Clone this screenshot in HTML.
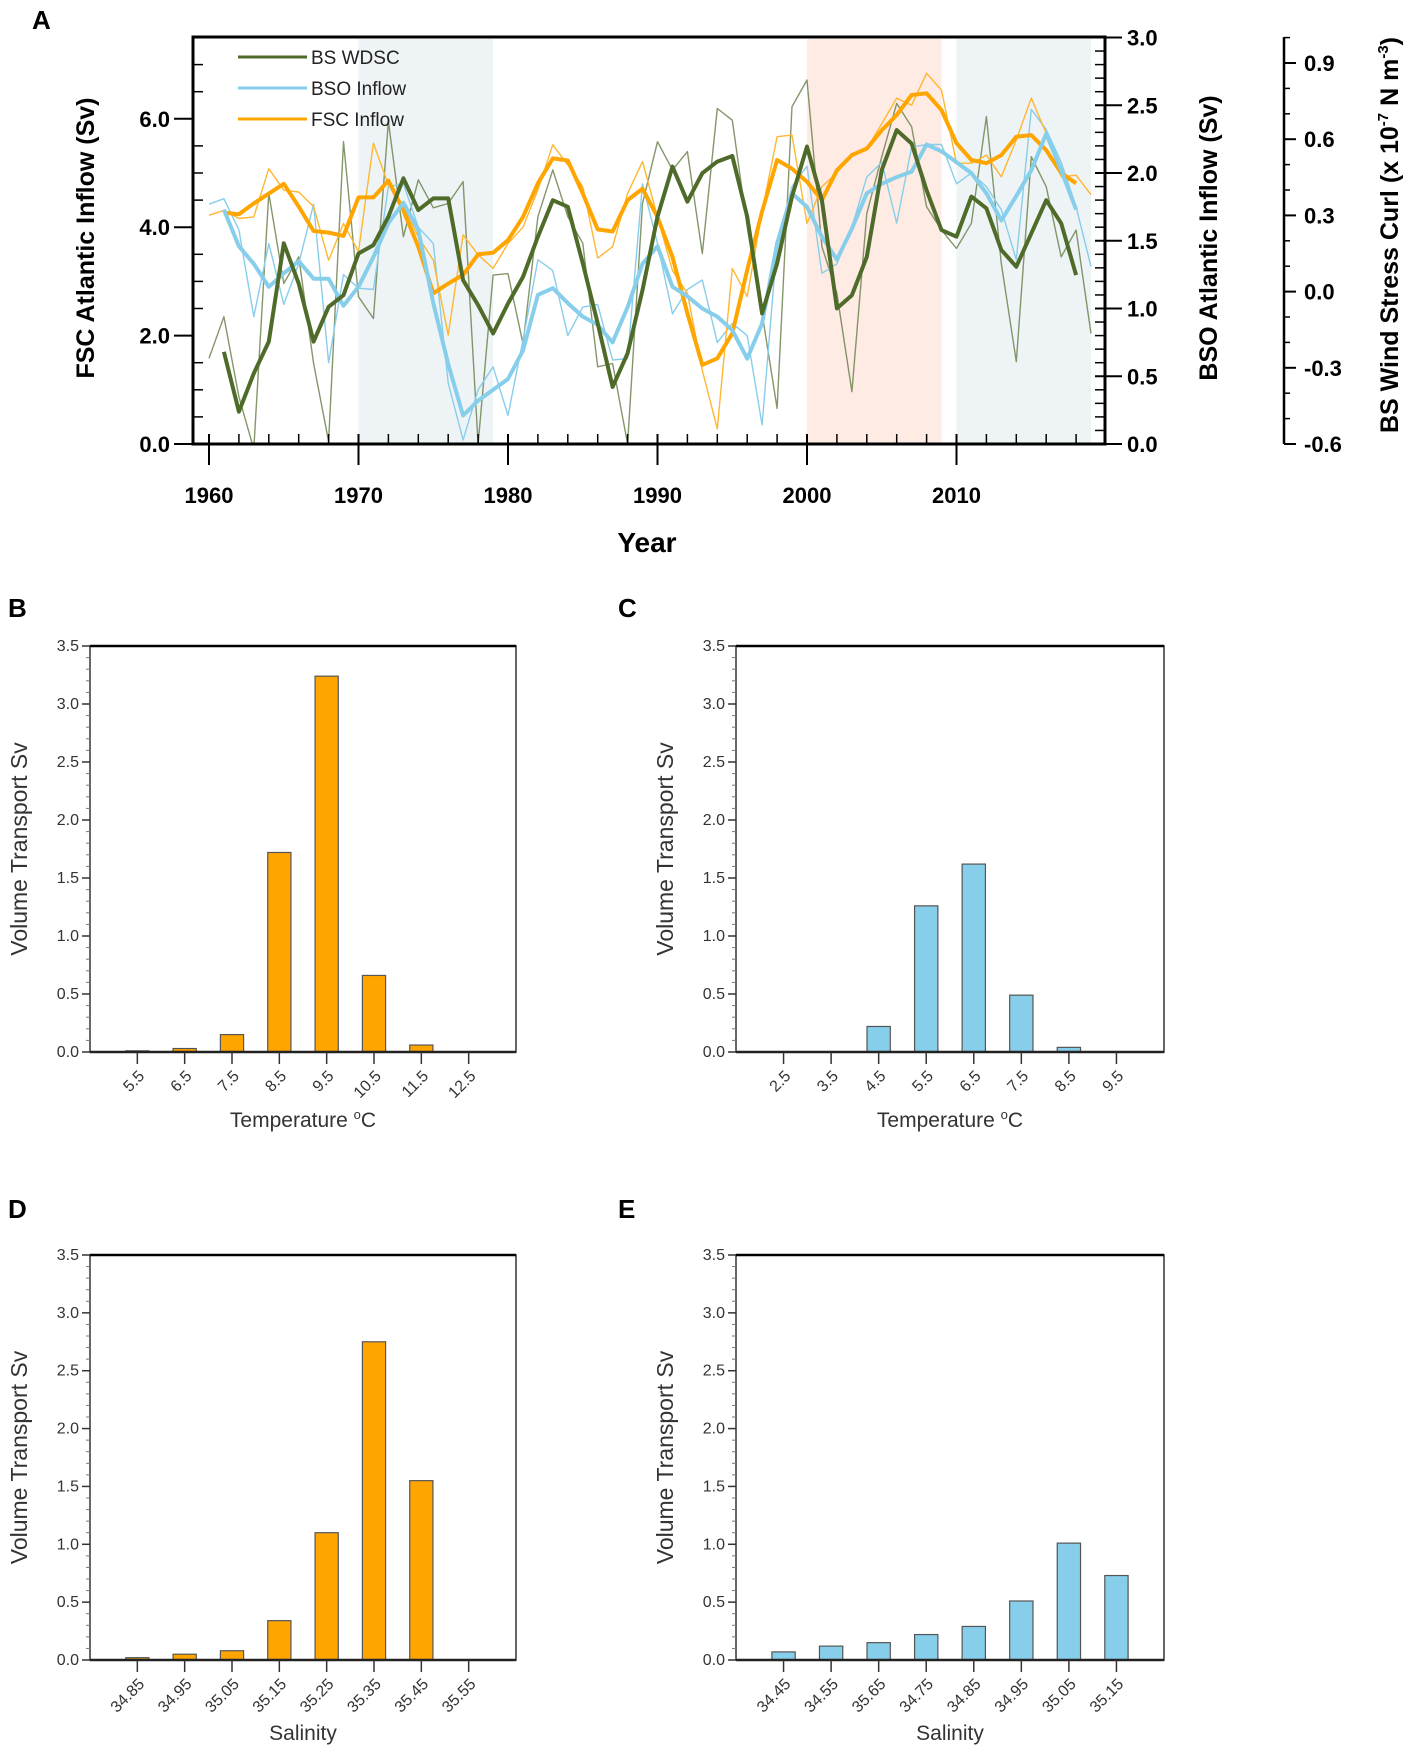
<!DOCTYPE html>
<html><head><meta charset="utf-8"><style>
html,body{margin:0;padding:0;background:#fff;}
svg{display:block;font-family:"Liberation Sans",Arial,sans-serif;}
</style></head><body>
<svg id="fig" width="1417" height="1757" viewBox="0 0 1417 1757" xmlns="http://www.w3.org/2000/svg">
<defs><clipPath id="clipA"><rect x="193" y="37" width="912" height="407"/></clipPath></defs>
<g id="panelA"></g>
<g id="panelB"></g>
<g id="panelC"></g>
<g id="panelD"></g>
<g id="panelE"></g>
</svg>
<script>
// ---------- Panel A data ----------
const yearsAnnual = [];
for (let y = 1960; y <= 2019; y++) yearsAnnual.push(y);
const yearsSmooth = [];
for (let y = 1961; y <= 2018; y++) yearsSmooth.push(y);
const fscAnnual = [4.22,4.31,4.16,4.19,5.08,4.68,4.65,4.38,3.39,4.07,3.55,5.55,4.78,4.38,3.82,3.39,2.01,3.86,3.49,3.24,3.7,4.0,4.69,5.52,5.15,4.75,3.43,3.64,4.62,5.21,4.19,3.2,2.78,1.36,0.28,3.24,2.72,4.29,5.67,5.70,4.07,4.75,5.0,5.36,5.45,5.91,6.38,6.25,6.84,6.53,5.18,5.18,5.33,4.93,5.61,6.38,5.73,4.93,4.96,4.6];
const fscSmooth = [4.27,4.24,4.44,4.62,4.80,4.38,3.93,3.90,3.84,4.55,4.55,4.86,4.31,3.64,2.78,2.96,3.12,3.5,3.53,3.76,4.19,4.81,5.27,5.23,4.62,3.96,3.92,4.5,4.71,4.19,3.45,2.41,1.46,1.58,2.04,3.21,4.29,5.24,5.08,4.84,4.5,5.05,5.33,5.45,5.79,6.07,6.44,6.47,6.16,5.55,5.24,5.18,5.33,5.67,5.70,5.42,5.0,4.81];
const bsoAnnual = [1.77,1.81,1.58,0.94,1.48,1.03,1.33,1.77,0.6,1.25,1.15,1.14,1.9,1.92,1.6,1.48,0.45,0.03,0.4,0.57,0.21,0.77,1.36,1.28,0.8,1.01,1.03,0.62,0.63,1.92,1.48,0.96,1.14,1.21,0.75,0.89,0.8,0.14,1.48,1.9,2.05,1.26,1.33,1.6,1.97,2.08,1.63,2.19,2.21,2.21,1.92,2.0,1.90,1.73,1.36,2.47,2.32,2.08,1.75,1.31];
const bsoSmooth = [1.73,1.46,1.33,1.16,1.26,1.35,1.22,1.22,1.02,1.16,1.38,1.63,1.78,1.58,1.04,0.59,0.21,0.32,0.40,0.48,0.69,1.10,1.15,1.04,0.94,0.88,0.75,1.01,1.33,1.46,1.16,1.09,1.0,0.94,0.84,0.63,0.89,1.48,1.85,1.75,1.53,1.36,1.59,1.85,1.92,1.97,2.01,2.21,2.16,2.08,1.999,1.85,1.65,1.83,2.02,2.29,2.02,1.73];
const windAnnual = [-0.263,-0.099,-0.414,-0.62,0.387,0.032,0.137,-0.283,-0.59,0.59,-0.02,-0.106,0.67,0.216,0.44,0.33,0.347,0.433,-0.6,0.065,0.071,-0.205,0.295,0.479,0.295,0.19,-0.296,-0.283,-0.6,0.347,0.59,0.479,0.551,0.15,0.721,0.675,0.255,-0.086,-0.46,0.728,0.833,0.177,-0.007,-0.394,0.308,0.531,0.741,0.649,0.334,0.242,0.17,0.269,0.689,0.111,-0.276,0.531,0.413,0.137,0.242,-0.165];
const windSmooth = [-0.237,-0.473,-0.322,-0.197,0.19,0.032,-0.197,-0.06,-0.014,0.15,0.183,0.295,0.446,0.321,0.367,0.367,0.045,-0.053,-0.165,-0.047,0.058,0.216,0.36,0.334,0.111,-0.125,-0.375,-0.243,0.006,0.295,0.492,0.354,0.466,0.512,0.534,0.295,-0.086,0.111,0.374,0.571,0.36,-0.066,-0.014,0.137,0.479,0.636,0.583,0.399,0.242,0.216,0.374,0.328,0.164,0.098,0.229,0.36,0.269,0.065];
const shadeStarts = [1970, 2000, 2010];
const shadeEnds = [1979, 2009, 2019];
const shadeKinds = ["cold", "warm", "cold"];
const yearTicks = [1960,1970,1980,1990,2000,2010];
const leftTicks = [0,2,4,6];
const rightTicks = [0,0.5,1.0,1.5,2.0,2.5,3.0];
const windTicks = [-0.6,-0.3,0.0,0.3,0.6,0.9];

// ---------- Bar panels data ----------
const tempCatsB = ["5.5","6.5","7.5","8.5","9.5","10.5","11.5","12.5"];
const tempValsB = [0.01,0.03,0.15,1.72,3.24,0.66,0.06,0];
const tempCatsC = ["2.5","3.5","4.5","5.5","6.5","7.5","8.5","9.5"];
const tempValsC = [0,0,0.22,1.26,1.62,0.49,0.04,0];
const salCatsD = ["34.85","34.95","35.05","35.15","35.25","35.35","35.45","35.55"];
const salValsD = [0.02,0.05,0.08,0.34,1.10,2.75,1.55,0];
const salCatsE = ["34.45","34.55","35.65","34.75","34.85","34.95","35.05","35.15"];
const salValsE = [0.07,0.12,0.15,0.22,0.29,0.51,1.01,0.73];
const barTicks = [0,0.5,1.0,1.5,2.0,2.5,3.0,3.5];

const NS = "http://www.w3.org/2000/svg";
function mk(parent, tag, attrs, text) {
  const e = document.createElementNS(NS, tag);
  for (const k in attrs) e.setAttribute(k, attrs[k]);
  if (text !== undefined) e.textContent = text;
  parent.appendChild(e);
  return e;
}

// ---------- Panel A ----------
const A = document.getElementById('panelA');
const L = 193, R = 1105, T = 37, B = 444;
const xA = yr => 209 + (yr - 1960) * 14.95;
const yL = v => B - v * 54.2;
const yR = v => B - v * 135.5;
const yW = v => B - (v + 0.6) * 254;

let lab = mk(A, 'text', {x: 32, y: 29, 'font-size': 26, 'font-weight': 'bold'}, 'A');



for (let i = 0; i < shadeStarts.length; i++) {
  const r = mk(A, 'rect', {x: xA(shadeStarts[i]), y: T + 2, width: xA(shadeEnds[i]) - xA(shadeStarts[i]), height: B - T - 2, fill: shadeKinds[i] === 'warm' ? '#fdebe4' : '#eef3f6'});
  
  
}

function series(data, years, yf, color, w, name, op) {
  const pts = data.map((v, i) => xA(years[i]).toFixed(1) + ',' + yf(v).toFixed(1)).join(' ');
  const p = mk(A, 'polyline', {points: pts, fill: 'none', stroke: color, 'stroke-width': w, 'stroke-linejoin': 'round', 'clip-path': 'url(#clipA)', opacity: op});
  
  
}
series(windAnnual, yearsAnnual, yW, '#6f8450', 1.4, 'bs-wdsc-annual-line', 0.85);
series(bsoAnnual, yearsAnnual, yR, '#87ceeb', 1.4, 'bso-inflow-annual-line', 1);
series(fscAnnual, yearsAnnual, yL, '#ffb732', 1.4, 'fsc-inflow-annual-line', 1);
series(fscSmooth, yearsSmooth, yL, '#ffa500', 4, 'fsc-inflow-smoothed-line', 1);
series(bsoSmooth, yearsSmooth, yR, '#87ceeb', 4, 'bso-inflow-smoothed-line', 1);
series(windSmooth, yearsSmooth, yW, '#4f6b2a', 4, 'bs-wdsc-smoothed-line', 1);

const fr = mk(A, 'rect', {x: L, y: T, width: R - L, height: B - T, fill: 'none', stroke: '#000', 'stroke-width': 3});



for (let yr = 1960; yr <= 2019; yr += 2) {
  mk(A, 'line', {x1: xA(yr), x2: xA(yr), y1: B, y2: B - 10, stroke: '#000', 'stroke-width': 1.5});
}
yearTicks.forEach(yr => {
  mk(A, 'line', {x1: xA(yr), x2: xA(yr), y1: B - 10, y2: B + 21, stroke: '#000', 'stroke-width': 2});
  const t = mk(A, 'text', {x: xA(yr), y: 503, 'font-size': 22, 'font-weight': 'bold', 'text-anchor': 'middle'}, String(yr));
  
  
});
let xt = mk(A, 'text', {x: 647, y: 552, 'font-size': 28, 'font-weight': 'bold', 'text-anchor': 'middle'}, 'Year');



for (let v = 0.5; v < 7.5; v += 0.5) {
  if (v % 2 !== 0) mk(A, 'line', {x1: L, x2: L + 10, y1: yL(v), y2: yL(v), stroke: '#000', 'stroke-width': 1.5});
}
leftTicks.forEach(v => {
  mk(A, 'line', {x1: L - 19, x2: L, y1: yL(v), y2: yL(v), stroke: '#000', 'stroke-width': 2});
  const t = mk(A, 'text', {x: L - 23, y: yL(v) + 8, 'font-size': 22, 'font-weight': 'bold', 'text-anchor': 'end'}, v.toFixed(1));
  
  
});
let lt = mk(A, 'text', {x: 0, y: 0, 'font-size': 25, 'font-weight': 'bold', 'text-anchor': 'middle', transform: 'translate(94,238) rotate(-90)'}, 'FSC Atlantic Inflow (Sv)');



for (let k = 1; k < 30; k++) {
  if (k % 5 !== 0) mk(A, 'line', {x1: R - 10, x2: R, y1: yR(k / 10), y2: yR(k / 10), stroke: '#000', 'stroke-width': 1.5});
}
rightTicks.forEach(v => {
  mk(A, 'line', {x1: R - 10, x2: R + 17, y1: yR(v), y2: yR(v), stroke: '#000', 'stroke-width': 2});
  const t = mk(A, 'text', {x: R + 22, y: yR(v) + 8, 'font-size': 22, 'font-weight': 'bold'}, v.toFixed(1));
  
  
});
let rt = mk(A, 'text', {x: 0, y: 0, 'font-size': 25, 'font-weight': 'bold', 'text-anchor': 'middle', transform: 'translate(1217,238) rotate(-90)'}, 'BSO Atlantic Inflow (Sv)');



const WX = 1284;
let wl = mk(A, 'line', {x1: WX, x2: WX, y1: T, y2: B, stroke: '#000', 'stroke-width': 2.5});


for (let k = -5; k <= 10; k++) {
  if (k % 3 !== 0) mk(A, 'line', {x1: WX, x2: WX + 6, y1: yW(k / 10), y2: yW(k / 10), stroke: '#000', 'stroke-width': 1.5});
}
windTicks.forEach(v => {
  mk(A, 'line', {x1: WX, x2: WX + 12, y1: yW(v), y2: yW(v), stroke: '#000', 'stroke-width': 2});
  const t = mk(A, 'text', {x: WX + 20, y: yW(v) + 8, 'font-size': 22, 'font-weight': 'bold'}, v.toFixed(1));
  
  
});
const wt = mk(A, 'text', {x: 0, y: 0, 'font-size': 25, 'font-weight': 'bold', 'text-anchor': 'middle', transform: 'translate(1398,235) rotate(-90)'});


mk(wt, 'tspan', {}, 'BS Wind Stress Curl (x 10');
mk(wt, 'tspan', {dy: -10, 'font-size': 15}, '-7');
mk(wt, 'tspan', {dy: 10}, ' N m');
mk(wt, 'tspan', {dy: -10, 'font-size': 15}, '-3');
mk(wt, 'tspan', {dy: 10}, ')');

const legNames = ['BS WDSC', 'BSO Inflow', 'FSC Inflow'];
const legColors = ['#4f6b2a', '#87ceeb', '#ffa500'];
legNames.forEach((n, i) => {
  const g = mk(A, 'g', {});
  
  
  const yy = 57 + i * 31;
  mk(g, 'line', {x1: 238, x2: 307, y1: yy, y2: yy, stroke: legColors[i], 'stroke-width': 3});
  mk(g, 'text', {x: 311, y: yy + 7, 'font-size': 19, fill: '#222'}, n);
});

// ---------- Bar panels ----------
function barPanel(gid, letter, lx, ly, left, right, top, bottom, cats, vals, fill, xtitle, isTemp) {
  const G = document.getElementById(gid);
  const l = mk(G, 'text', {x: lx, y: ly, 'font-size': 26, 'font-weight': 'bold'}, letter);
  
  
  const slot = (right - left) / 9;
  const xc = i => left + (i + 1) * slot;
  const yv = v => bottom - v / 3.5 * (bottom - top);
  const bw = slot * 0.49;
  vals.forEach((v, i) => {
    if (v <= 0) return;
    const r = mk(G, 'rect', {x: xc(i) - bw / 2, y: yv(v), width: bw, height: bottom - yv(v), fill: fill, stroke: '#555', 'stroke-width': 1.2});
    
    
  });
  const f = mk(G, 'rect', {x: left, y: top, width: right - left, height: bottom - top, fill: 'none', stroke: '#333', 'stroke-width': 1.5});
  
  
  mk(G, 'line', {x1: left, x2: right, y1: top, y2: top, stroke: '#000', 'stroke-width': 2.5});
  mk(G, 'line', {x1: left, x2: right, y1: bottom, y2: bottom, stroke: '#222', 'stroke-width': 2.5});
  for (let k = 1; k < 35; k++) {
    if (k % 5 !== 0) mk(G, 'line', {x1: left - 4, x2: left, y1: yv(k / 10), y2: yv(k / 10), stroke: '#777', 'stroke-width': 1});
  }
  barTicks.forEach(v => {
    mk(G, 'line', {x1: left - 8, x2: left, y1: yv(v), y2: yv(v), stroke: '#333', 'stroke-width': 1.5});
    const t = mk(G, 'text', {x: left - 11, y: yv(v) + 5, 'font-size': 16, 'text-anchor': 'end', fill: '#333'}, v.toFixed(1));
    
    
  });
  cats.forEach((c, i) => {
    mk(G, 'line', {x1: xc(i), x2: xc(i), y1: bottom, y2: bottom + 12, stroke: '#333', 'stroke-width': 1.5});
    const t = mk(G, 'text', {x: 0, y: 0, 'font-size': 16, 'text-anchor': 'end', fill: '#333', transform: 'translate(' + (xc(i) + 8) + ',' + (bottom + 25) + ') rotate(-45)'}, c);
    
    
  });
  const yt = mk(G, 'text', {x: 0, y: 0, 'font-size': 23, 'text-anchor': 'middle', fill: '#333', transform: 'translate(' + (left - 63) + ',' + ((top + bottom) / 2) + ') rotate(-90)'}, 'Volume Transport Sv');
  
  
  const xtl = mk(G, 'text', {x: (left + right) / 2, y: bottom + (isTemp ? 75 : 80), 'font-size': 21, 'text-anchor': 'middle', fill: '#333'});
  
  
  if (isTemp) {
    mk(xtl, 'tspan', {}, 'Temperature ');
    mk(xtl, 'tspan', {dy: -8, 'font-size': 13}, 'o');
    mk(xtl, 'tspan', {dy: 8}, 'C');
  } else {
    xtl.textContent = xtitle;
  }
}
barPanel('panelB', 'B', 8, 617, 90, 516, 646, 1052, tempCatsB, tempValsB, '#ffa500', 'Temperature', true);
barPanel('panelC', 'C', 618, 617, 736, 1164, 646, 1052, tempCatsC, tempValsC, '#87ceeb', 'Temperature', true);
barPanel('panelD', 'D', 8, 1218, 90, 516, 1255, 1660, salCatsD, salValsD, '#ffa500', 'Salinity', false);
barPanel('panelE', 'E', 618, 1218, 736, 1164, 1255, 1660, salCatsE, salValsE, '#87ceeb', 'Salinity', false);
</script>
</body></html>
